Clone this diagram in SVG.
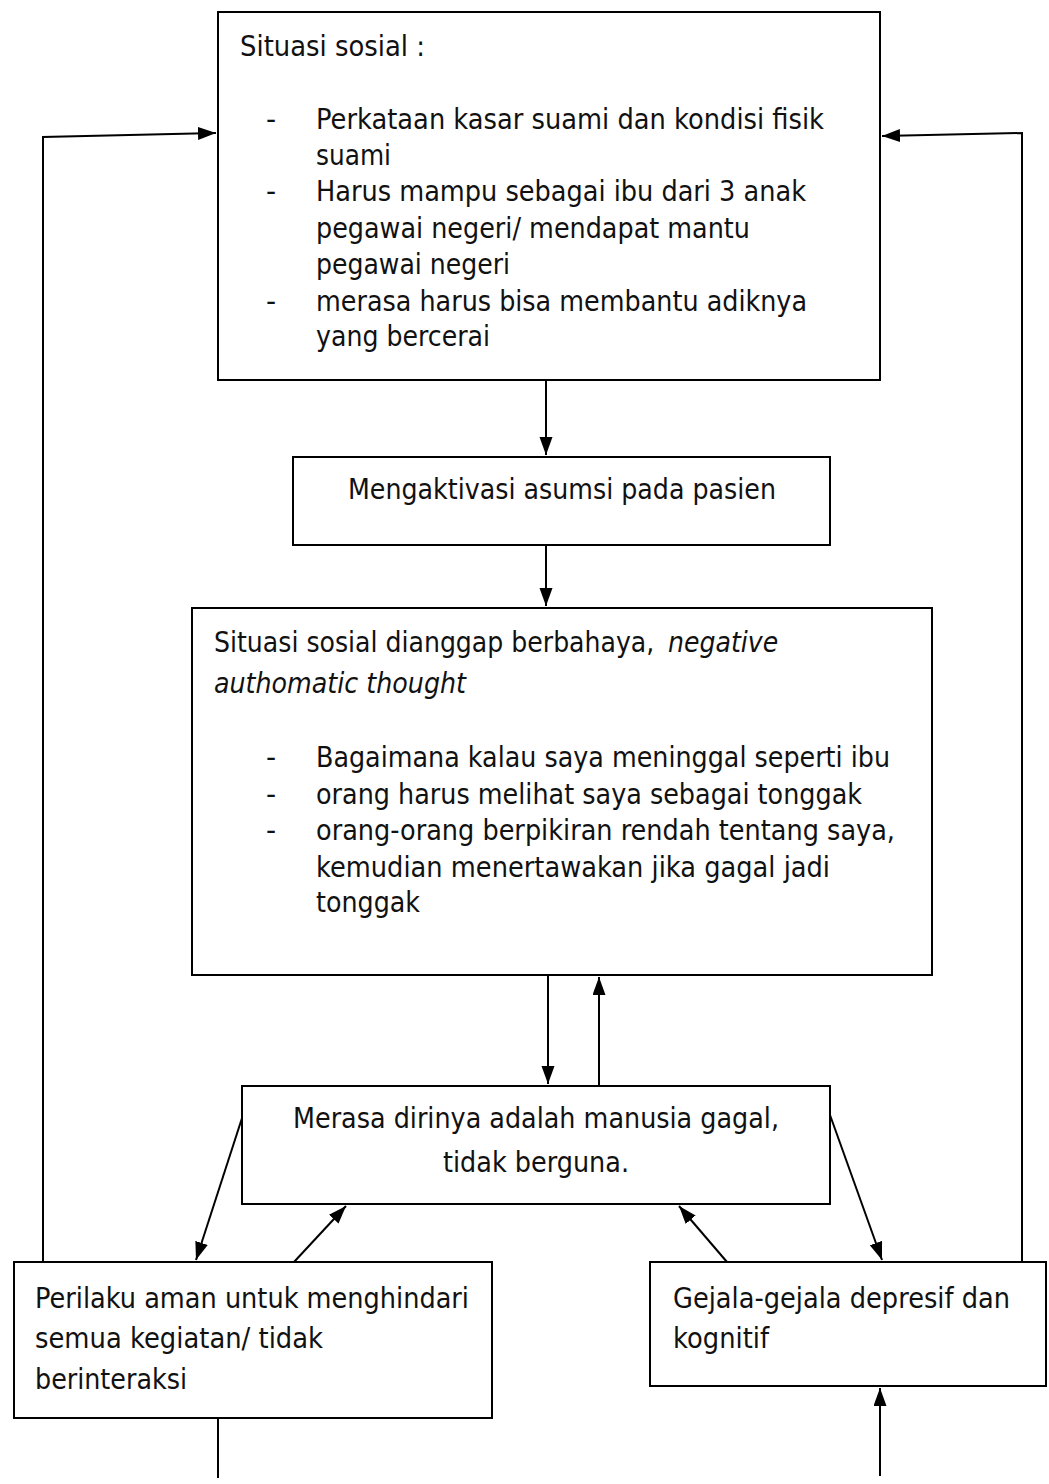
<svg xmlns="http://www.w3.org/2000/svg" width="1049" height="1484" viewBox="0 0 1049 1484">
<style>
.box{fill:#fff;stroke:#000;stroke-width:2}
.t{font-family:"DejaVu Sans","Verdana",sans-serif;font-size:28px;fill:#111}
.i{font-style:italic}
.c{stroke:#000;stroke-width:2;fill:none}
</style>
<defs>
<marker id="ah" markerUnits="userSpaceOnUse" markerWidth="20" markerHeight="14" refX="18" refY="6.5" orient="auto">
<path d="M0,0 L18,6.5 L0,13 z" fill="#000"/>
</marker>
</defs>
<rect width="1049" height="1484" fill="#fff"/>
<g id="connectors">
<polyline class="c" points="43,1262 43,137 216,133" marker-end="url(#ah)"/>
<polyline class="c" points="1022,1262 1022,133 882,136" marker-end="url(#ah)"/>
<line class="c" x1="546" y1="380" x2="546" y2="455" marker-end="url(#ah)"/>
<line class="c" x1="546" y1="545" x2="546" y2="606" marker-end="url(#ah)"/>
<line class="c" x1="548" y1="968" x2="548" y2="1084" marker-end="url(#ah)"/>
<line class="c" x1="599" y1="1086" x2="599" y2="977" marker-end="url(#ah)"/>
<line class="c" x1="243" y1="1115" x2="196" y2="1260" marker-end="url(#ah)"/>
<line class="c" x1="294" y1="1262" x2="346" y2="1206" marker-end="url(#ah)"/>
<line class="c" x1="727" y1="1262" x2="679" y2="1206" marker-end="url(#ah)"/>
<line class="c" x1="830" y1="1115" x2="882" y2="1260" marker-end="url(#ah)"/>
<line class="c" x1="218" y1="1418" x2="218" y2="1478"/>
<line class="c" x1="880" y1="1476" x2="880" y2="1388" marker-end="url(#ah)"/>
</g>
<g id="situasi-sosial">
<rect class="box" x="218" y="12" width="662" height="368"/>
<text class="t" x="240" y="56" textLength="185" lengthAdjust="spacingAndGlyphs">Situasi sosial :</text>
<text class="t" x="266" y="129">-</text>
<text class="t" x="316" y="129" textLength="508" lengthAdjust="spacingAndGlyphs">Perkataan kasar suami dan kondisi fisik</text>
<text class="t" x="316" y="165" textLength="75" lengthAdjust="spacingAndGlyphs">suami</text>
<text class="t" x="266" y="201">-</text>
<text class="t" x="316" y="201" textLength="490" lengthAdjust="spacingAndGlyphs">Harus mampu sebagai ibu dari 3 anak</text>
<text class="t" x="316" y="238" textLength="434" lengthAdjust="spacingAndGlyphs">pegawai negeri/ mendapat mantu</text>
<text class="t" x="316" y="274" textLength="194" lengthAdjust="spacingAndGlyphs">pegawai negeri</text>
<text class="t" x="266" y="311">-</text>
<text class="t" x="316" y="311" textLength="491" lengthAdjust="spacingAndGlyphs">merasa harus bisa membantu adiknya</text>
<text class="t" x="316" y="346" textLength="174" lengthAdjust="spacingAndGlyphs">yang bercerai</text>
</g>
<g id="mengaktivasi">
<rect class="box" x="293" y="457" width="537" height="88"/>
<text class="t" x="348" y="499" textLength="428" lengthAdjust="spacingAndGlyphs">Mengaktivasi asumsi pada pasien</text>
</g>
<g id="situasi-berbahaya">
<rect class="box" x="192" y="608" width="740" height="367"/>
<text class="t" transform="translate(214 652) scale(0.9 1)" x="0" y="0">Situasi sosial dianggap berbahaya,</text>
<text class="t i" transform="translate(668 652) scale(0.9 1)" x="0" y="0">negative</text>
<text class="t i" x="214" y="693" textLength="252" lengthAdjust="spacingAndGlyphs">authomatic thought</text>
<text class="t" x="266" y="767">-</text>
<text class="t" x="316" y="767" textLength="574" lengthAdjust="spacingAndGlyphs">Bagaimana kalau saya meninggal seperti ibu</text>
<text class="t" x="266" y="804">-</text>
<text class="t" x="316" y="804" textLength="546" lengthAdjust="spacingAndGlyphs">orang harus melihat saya sebagai tonggak</text>
<text class="t" x="266" y="840">-</text>
<text class="t" x="316" y="840" textLength="579" lengthAdjust="spacingAndGlyphs">orang-orang berpikiran rendah tentang saya,</text>
<text class="t" x="316" y="877" textLength="514" lengthAdjust="spacingAndGlyphs">kemudian menertawakan jika gagal jadi</text>
<text class="t" x="316" y="912" textLength="104" lengthAdjust="spacingAndGlyphs">tonggak</text>
</g>
<g id="merasa-gagal">
<rect class="box" x="242" y="1086" width="588" height="118"/>
<text class="t" x="293" y="1128" textLength="486" lengthAdjust="spacingAndGlyphs">Merasa dirinya adalah manusia gagal,</text>
<text class="t" x="443" y="1172" textLength="186" lengthAdjust="spacingAndGlyphs">tidak berguna.</text>
</g>
<g id="perilaku-aman">
<rect class="box" x="14" y="1262" width="478" height="156"/>
<text class="t" x="35" y="1308" textLength="434" lengthAdjust="spacingAndGlyphs">Perilaku aman untuk menghindari</text>
<text class="t" x="35" y="1348" textLength="288" lengthAdjust="spacingAndGlyphs">semua kegiatan/ tidak</text>
<text class="t" x="35" y="1389" textLength="152" lengthAdjust="spacingAndGlyphs">berinteraksi</text>
</g>
<g id="gejala">
<rect class="box" x="650" y="1262" width="396" height="124"/>
<text class="t" x="673" y="1308" textLength="337" lengthAdjust="spacingAndGlyphs">Gejala-gejala depresif dan</text>
<text class="t" x="673" y="1348" textLength="96" lengthAdjust="spacingAndGlyphs">kognitif</text>
</g>
</svg>
